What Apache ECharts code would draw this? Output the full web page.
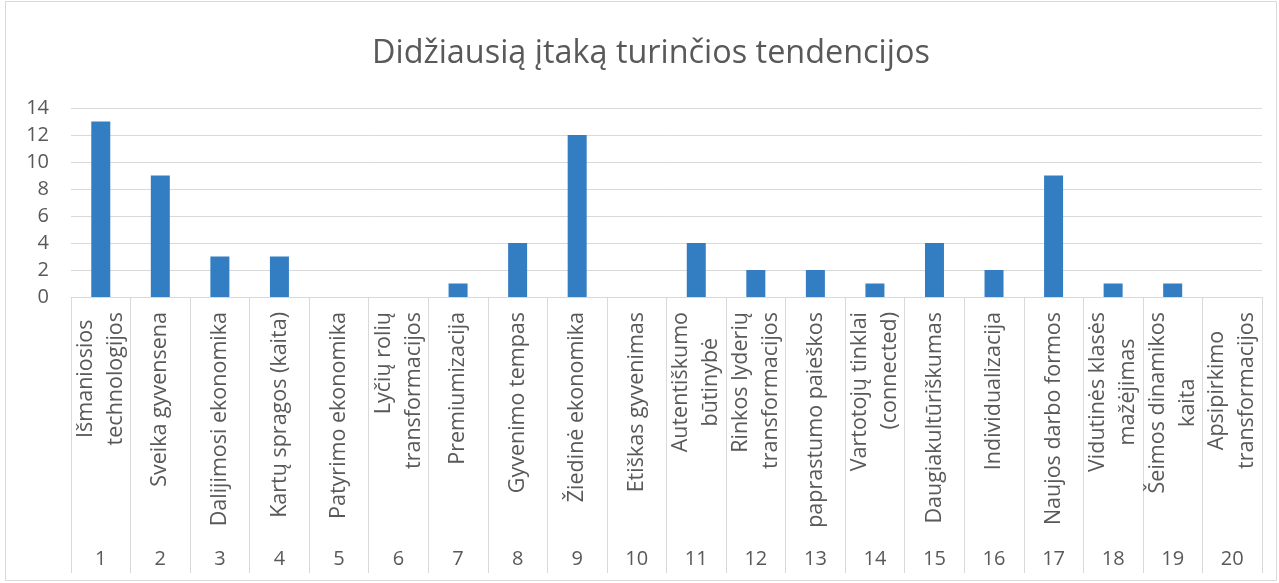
<!DOCTYPE html>
<html>
<head>
<meta charset="utf-8">
<style>
  html, body { margin: 0; padding: 0; background: #ffffff; }
  #chart { width: 1279px; height: 583px; }
</style>
<script src="https://cdn.jsdelivr.net/npm/echarts@6/dist/echarts.min.js"></script>
</head>
<body>
<div id="chart"></div>
<script>
// ---- data ----
const titleText = 'Didžiausią įtaką turinčios tendencijos';
const categoryNumbers = ['1','2','3','4','5','6','7','8','9','10','11','12','13','14','15','16','17','18','19','20'];
const categoryNames = [
  'Išmaniosios\ntechnologijos',
  'Sveika gyvensena',
  'Dalijimosi ekonomika',
  'Kartų spragos (kaita)',
  'Patyrimo ekonomika',
  'Lyčių rolių\ntransformacijos',
  'Premiumizacija',
  'Gyvenimo tempas',
  'Žiedinė ekonomika',
  'Etiškas gyvenimas',
  'Autentiškumo\nbūtinybė',
  'Rinkos lyderių\ntransformacijos',
  'paprastumo paieškos',
  'Vartotojų tinklai\n(connected)',
  'Daugiakultūriškumas',
  'Individualizacija',
  'Naujos darbo formos',
  'Vidutinės klasės\nmažėjimas',
  'Šeimos dinamikos\nkaita',
  'Apsipirkimo\ntransformacijos'
];
const values = [13, 9, 3, 3, 0, 0, 1, 4, 12, 0, 4, 2, 2, 1, 4, 2, 9, 1, 1, 0];
const yTicks = [0, 2, 4, 6, 8, 10, 12, 14];

// ---- styling ----
const FONT = '"Open Sans", "Noto Sans", sans-serif';
const TEXT = '#595959';
const GRID = '#d9d9d9';
// lines aligned toward the axis (top) for these categories, others centered
const topAligned = { 'Lyčių rolių\ntransformacijos': true, 'Rinkos lyderių\ntransformacijos': true, 'Vartotojų tinklai\n(connected)': true };

const chart = echarts.init(document.getElementById('chart'), null, { renderer: 'canvas' });

const LBL = 21.5;
const labelRich = {
  c: { align: 'center', fontSize: LBL, lineHeight: 30, color: TEXT, fontFamily: FONT },
  t: { align: 'right', fontSize: LBL, lineHeight: 30, color: TEXT, fontFamily: FONT }
};

chart.setOption({
  animation: false,
  backgroundColor: '#ffffff',
  title: {
    text: titleText,
    left: 367,
    top: 33,
    textStyle: { fontFamily: FONT, fontSize: 32.4, fontWeight: 'normal', color: TEXT }
  },
  graphic: [{
    type: 'rect',
    shape: { x: 5.5, y: 1.5, width: 1271, height: 579 },
    style: { fill: 'none', stroke: GRID, lineWidth: 1 },
    silent: true
  }],
  grid: { left: 71, right: 17, top: 108, bottom: 286, containLabel: false },
  xAxis: [{
    type: 'category',
    data: categoryNames,
    position: 'bottom',
    axisLine: { show: true, lineStyle: { color: GRID, width: 1 } },
    axisTick: { show: true, interval: 0, length: 276, lineStyle: { color: GRID, width: 1 } },
    axisLabel: {
      interval: 0,
      rotate: 90,
      margin: 15,
      fontFamily: FONT,
      fontSize: LBL,
      color: TEXT,
      formatter: function (v) {
        const key = topAligned[v] ? 't' : 'c';
        return v.split('\n').map(function (l) { return '{' + key + '|' + l + '}'; }).join('\n');
      },
      rich: labelRich
    },
    splitLine: { show: false }
  }, {
    type: 'category',
    data: categoryNumbers,
    position: 'bottom',
    offset: 252,
    axisLine: { show: false },
    axisTick: { show: false },
    axisLabel: { interval: 0, margin: 0, fontFamily: FONT, fontSize: 20, color: TEXT },
    splitLine: { show: false }
  }],
  yAxis: {
    type: 'value',
    min: 0,
    max: 14,
    interval: 2,
    axisLine: { show: false },
    axisTick: { show: false },
    axisLabel: {
      margin: 22,
      fontFamily: FONT,
      fontSize: 20,
      color: TEXT,
      formatter: function (v) { return yTicks.indexOf(v) >= 0 ? String(v) : ''; }
    },
    splitLine: { show: true, lineStyle: { color: GRID, width: 1 } }
  },
  series: [{
    type: 'bar',
    xAxisIndex: 0,
    data: values,
    barWidth: 19,
    itemStyle: { color: '#337dc2', borderWidth: 0 }
  }]
});
</script>
</body>
</html>
